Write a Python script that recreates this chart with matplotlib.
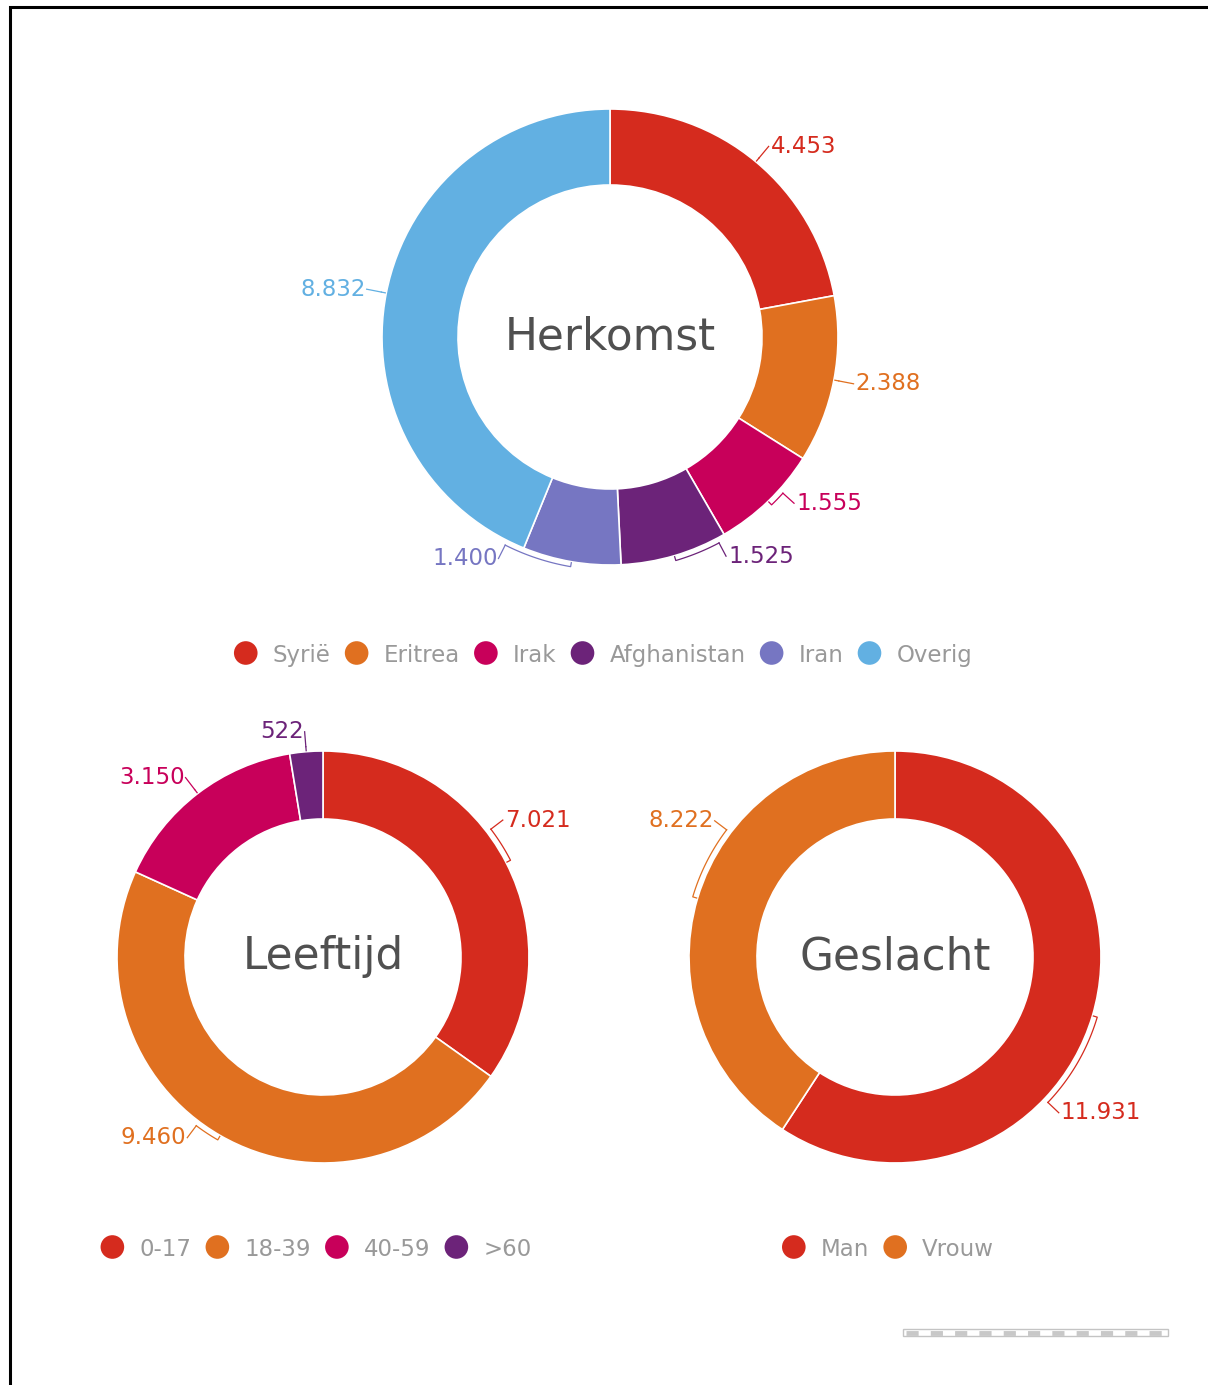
import numpy as np
import matplotlib
matplotlib.use('Agg')
import matplotlib.pyplot as plt
from matplotlib.patches import Rectangle

W, H = 1208, 1385

# data
herkomst_labels = ['Syrië', 'Eritrea', 'Irak', 'Afghanistan', 'Iran', 'Overig']
herkomst_values = [4453, 2388, 1555, 1525, 1400, 8832]
leeftijd_labels = ['0-17', '18-39', '40-59', '>60']
leeftijd_values = [7021, 9460, 3150, 522]
geslacht_labels = ['Man', 'Vrouw']
geslacht_values = [11931, 8222]

herkomst_colors = ['#d52b1e', '#e07020', '#c8005a', '#6c2379', '#7676c2', '#62b0e2']
leeftijd_colors = ['#d52b1e', '#e07020', '#c8005a', '#6c2379']
geslacht_colors = ['#d52b1e', '#e07020']

# how far (degrees, clockwise) the label bracket runs away from the slice middle
herkomst_shift = [0, 0, -4, -11.5, 17, 0]
leeftijd_shift = [-10, 7, 0, 0]
geslacht_shift = [27, 20.5]


def fmt(v):
    return '{:,}'.format(v).replace(',', '.')


def py(y):
    return H - y


def pt(cx, cy, r, a):
    # clock angle a (deg, clockwise from top) -> data coords
    t = np.radians(a)
    return cx + r * np.sin(t), py(cy) + r * np.cos(t)


def donut(ax, cx, cy, R, width, values, colors, shifts, title):
    ax.pie(values, colors=colors, center=(cx, py(cy)), radius=R,
           startangle=90, counterclock=False, frame=True,
           wedgeprops=dict(width=width, edgecolor='white', linewidth=1.2))
    ax.text(cx, py(cy), title, ha='center', va='center', fontsize=31.5,
            color='#505050')
    total = float(sum(values))
    start = 0.0
    for v, c, s in zip(values, colors, shifts):
        frac = v / total
        mid = (start + frac / 2) * 360
        start += frac
        anchor = mid + s
        rb = R + 5
        # bracket along the ring
        aa = np.linspace(mid, anchor, 40)
        bx, by = pt(cx, cy, rb, aa)
        x0, y0 = pt(cx, cy, R + 1, mid)
        if abs(s) > 0.5:
            ax.plot(np.r_[x0, bx], np.r_[y0, by], color=c, lw=0.9)
        else:
            ax.plot([x0, bx[0]], [y0, by[0]], color=c, lw=0.9)
        lx, ly = pt(cx, cy, R + 20, anchor)
        ax.plot([bx[-1], lx], [by[-1], ly], color=c, lw=0.9)
        side = np.sin(np.radians(anchor))
        ha = 'left' if side >= 0 else 'right'
        ax.text(lx + (2 if side >= 0 else -1), ly, fmt(v), ha=ha, va='center',
                fontsize=16.5, color=c)


def legend(fig, ax, labels, colors, cx, cy):
    # one row: dot, label, gap, dot, label ... centred on cx
    r = fig.canvas.get_renderer()
    texts = [ax.text(0, py(cy), lab, fontsize=16.5, color='#999999',
                     ha='left', va='center_baseline') for lab in labels]
    widths = [t.get_window_extent(r).width for t in texts]
    dot_to_text, text_to_dot = 27, 26
    total = sum(widths) + len(labels) * dot_to_text + (len(labels) - 1) * text_to_dot
    x = cx - total / 2 + 12
    xs = []
    for t, w in zip(texts, widths):
        xs.append(x)
        t.set_x(x + dot_to_text)
        x += dot_to_text + w + text_to_dot
    ax.scatter(xs, [py(cy)] * len(xs), s=17 ** 2, c=colors, linewidths=0,
               zorder=3)


fig = plt.figure(figsize=(W / 100, H / 100), dpi=100)
ax = fig.add_axes([0, 0, 1, 1])
ax.set_xlim(0, W)
ax.set_ylim(0, H)

donut(ax, 610, 337, 228, 76, herkomst_values, herkomst_colors,
      herkomst_shift, 'Herkomst')
donut(ax, 323, 957, 206, 68, leeftijd_values, leeftijd_colors,
      leeftijd_shift, 'Leeftijd')
donut(ax, 895, 957, 206, 68, geslacht_values, geslacht_colors,
      geslacht_shift, 'Geslacht')

ax.set_xlim(0, W)
ax.set_ylim(0, H)
ax.set_aspect('auto')

legend(fig, ax, herkomst_labels, herkomst_colors, 597, 653)
legend(fig, ax, leeftijd_labels, leeftijd_colors, 310, 1247)
legend(fig, ax, geslacht_labels, geslacht_colors, 882, 1247)

# frame of the screenshot
ax.plot([9.5, 9.5, W], [0, py(7), py(7)], color='black', lw=2.2,
        solid_joinstyle='miter')

# scrollbar-ish strip
ax.add_patch(Rectangle((903, py(1336)), 265, 7, fill=False,
                       ec='#c4c4c4', lw=1))
ax.plot([906, 1165], [py(1332.5)] * 2, color='#c8c8c8', lw=3.5,
        ls=(0, (2.5, 2.5)))

ax.set_xlim(0, W)
ax.set_ylim(0, H)
ax.axis('off')

fig.savefig('out.png', dpi=100, facecolor='white')
